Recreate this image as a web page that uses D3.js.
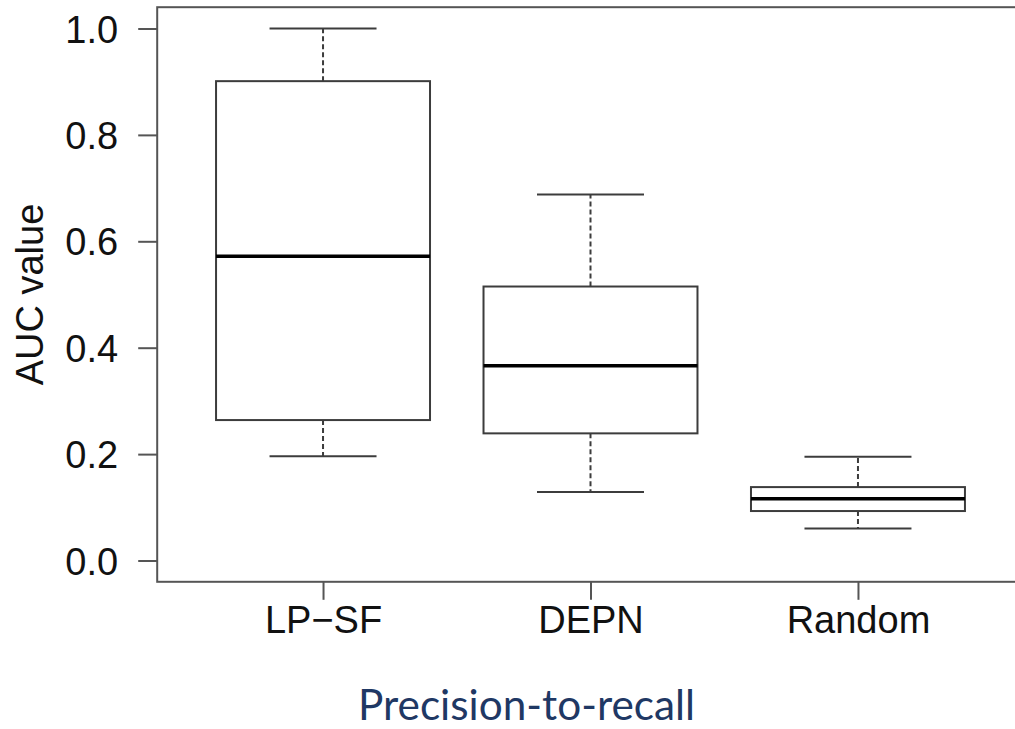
<!DOCTYPE html>
<html>
<head>
<meta charset="utf-8">
<script src="https://cdn.jsdelivr.net/npm/d3@7"></script>
<style>
  html, body { margin: 0; padding: 0; background: #fff; }
  svg { display: block; }
</style>
</head>
<body>
<svg id="chart" width="1015" height="729"></svg>
<script>
// Box plot summaries of AUC values per method
const categories = ["LP\u2212SF", "DEPN", "Random"];
const whiskerLow  = [0.196, 0.129, 0.060];
const boxLow      = [0.264, 0.239, 0.093];
const medians     = [0.572, 0.366, 0.116];
const boxHigh     = [0.901, 0.515, 0.138];
const whiskerHigh = [1.000, 0.688, 0.195];
const yTicks = [0.0, 0.2, 0.4, 0.6, 0.8, 1.0];
const yLabel = "AUC value";
const caption = "Precision-to-recall";

const boxes = categories.map((name, i) => ({
  name, pos: i + 1,
  wlo: whiskerLow[i], q1: boxLow[i], med: medians[i], q3: boxHigh[i], whi: whiskerHigh[i]
}));

const svg = d3.select("#chart");
const fontR = "'Liberation Sans', Arial, Helvetica, sans-serif";
const axisColor = "#555";
const lineColor = "#3c3c3c";

// Plot region follows R's 4% axis extension around the data ranges
const x = d3.scaleLinear().domain([0.38, 3.62]).range([157.2, 1023.8]);
const y = d3.scaleLinear().domain([-0.04, 1.04]).range([581.8, 7.2]);

const boxHalf = x(1.4) - x(1);     // boxwex 0.8
const stapleHalf = boxHalf / 2;     // staplewex 0.5

// Frame
svg.append("rect")
  .attr("x", x(0.38)).attr("y", y(1.04))
  .attr("width", x(3.62) - x(0.38)).attr("height", y(-0.04) - y(1.04))
  .attr("fill", "none").attr("stroke", axisColor).attr("stroke-width", 2);

// Y axis
const yAxis = d3.axisLeft(y).tickValues(yTicks).tickFormat(d3.format(".1f"))
  .tickSize(19).tickPadding(20);
const gy = svg.append("g").attr("transform", `translate(${x(0.38)},0)`).call(yAxis);
gy.select(".domain").remove();
gy.selectAll(".tick line").attr("stroke", axisColor).attr("stroke-width", 2);
gy.selectAll(".tick text")
  .attr("font-family", fontR).attr("font-size", 38).attr("fill", "#111")
  .attr("dy", "0.36em");

// X axis
const xAxis = d3.axisBottom(x).tickValues(boxes.map(b => b.pos))
  .tickFormat((d, i) => categories[i]).tickSize(18).tickPadding(6);
const gx = svg.append("g").attr("transform", `translate(0,${y(-0.04)})`).call(xAxis);
gx.select(".domain").remove();
gx.selectAll(".tick line").attr("stroke", axisColor).attr("stroke-width", 2);
gx.selectAll(".tick text")
  .attr("font-family", fontR).attr("font-size", 38).attr("fill", "#111");

// Y axis title
svg.append("text")
  .attr("transform", `translate(43,${(y(-0.04) + y(1.04)) / 2}) rotate(-90)`)
  .attr("text-anchor", "middle")
  .attr("font-family", fontR).attr("font-size", 38).attr("fill", "#111")
  .text(yLabel);

// Boxes
const g = svg.append("g").selectAll("g").data(boxes).join("g");

// dashed whiskers
g.append("line")
  .attr("x1", d => x(d.pos)).attr("x2", d => x(d.pos))
  .attr("y1", d => y(d.q3)).attr("y2", d => y(d.whi))
  .attr("stroke", lineColor).attr("stroke-width", 2).attr("stroke-dasharray", "5,3");
g.append("line")
  .attr("x1", d => x(d.pos)).attr("x2", d => x(d.pos))
  .attr("y1", d => y(d.q1)).attr("y2", d => y(d.wlo))
  .attr("stroke", lineColor).attr("stroke-width", 2).attr("stroke-dasharray", "5,3");

// staples
["whi", "wlo"].forEach(k => {
  g.append("line")
    .attr("x1", d => x(d.pos) - stapleHalf).attr("x2", d => x(d.pos) + stapleHalf)
    .attr("y1", d => y(d[k])).attr("y2", d => y(d[k]))
    .attr("stroke", lineColor).attr("stroke-width", 2);
});

// box
g.append("rect")
  .attr("x", d => x(d.pos) - boxHalf).attr("width", 2 * boxHalf)
  .attr("y", d => y(d.q3)).attr("height", d => y(d.q1) - y(d.q3))
  .attr("fill", "#fff").attr("stroke", lineColor).attr("stroke-width", 2);

// median
g.append("line")
  .attr("x1", d => x(d.pos) - boxHalf).attr("x2", d => x(d.pos) + boxHalf)
  .attr("y1", d => y(d.med)).attr("y2", d => y(d.med))
  .attr("stroke", "#000").attr("stroke-width", 3.5);

// Caption below the chart
svg.append("text")
  .attr("x", 526.5).attr("y", 719.5)
  .attr("text-anchor", "middle")
  .attr("font-family", "Lato, 'Open Sans', sans-serif").attr("font-size", 42)
  .attr("fill", "#1f3864")
  .attr("textLength", 337).attr("lengthAdjust", "spacingAndGlyphs")
  .text(caption);
</script>
</body>
</html>
